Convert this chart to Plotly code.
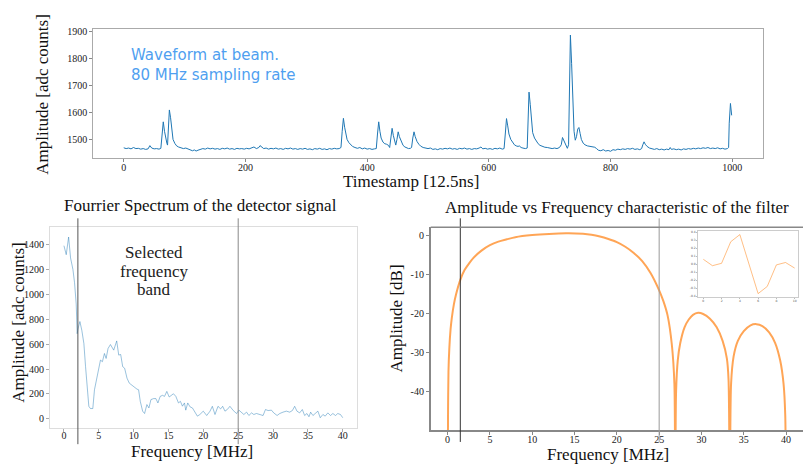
import plotly.graph_objects as go

W, H = 803, 464
SERIF = "Liberation Serif"
SANS = "DejaVu Sans"

# ---------------- data ----------------
# Top: waveform (sample index, adc counts)
ts_idx = [0, 4, 8, 12, 16, 20, 24, 28, 32, 36, 40, 43, 46, 50, 54, 58, 61, 63, 65, 67, 69, 71, 72, 73, 75, 77, 79, 81,
          84, 87, 90, 94, 98, 102, 106, 110, 113, 116, 119, 122, 126, 130, 134, 138, 142, 146, 150, 154, 158, 162,
          166, 170, 174, 178, 182, 186, 190, 194, 198, 202, 206, 210, 214, 218, 222, 224, 227, 230, 234, 238, 242,
          246, 250, 254, 258, 262, 266, 270, 274, 278, 282, 286, 290, 294, 298, 302, 306, 310, 314, 318, 322, 326,
          330, 334, 338, 342, 346, 350, 354, 357, 359, 361, 363, 365, 367, 370, 373, 376, 380, 384, 388, 392, 396,
          400, 404, 408, 412, 415, 417, 419, 421, 423, 426, 429, 432, 435, 437, 439, 441, 443, 445, 447, 449, 451,
          453, 456, 459, 462, 465, 468, 471, 473, 475, 477, 479, 482, 485, 488, 492, 496, 500, 504, 508, 512, 516,
          520, 524, 528, 532, 536, 540, 544, 548, 552, 556, 560, 564, 568, 572, 576, 580, 584, 587, 590, 594, 598,
          602, 606, 610, 614, 618, 622, 625, 627, 629, 631, 633, 636, 639, 642, 645, 648, 650, 653, 656, 660, 663,
          664, 666, 668, 670, 672, 675, 678, 681, 684, 688, 692, 696, 700, 704, 708, 712, 716, 719, 721, 723, 726,
          729, 731, 732, 734, 736, 738, 740, 742, 744, 746, 748, 750, 752, 755, 758, 762, 766, 770, 774, 777, 780,
          784, 788, 792, 796, 800, 804, 808, 812, 816, 820, 824, 828, 832, 836, 840, 844, 848, 851, 853, 855, 857,
          860, 864, 868, 872, 876, 880, 884, 888, 892, 896, 898, 900, 904, 908, 912, 916, 920, 924, 928, 932, 936,
          940, 944, 948, 952, 956, 960, 964, 968, 972, 976, 980, 984, 988, 992, 994, 995, 997, 999]
ts_adc = [1469, 1466, 1468, 1465, 1470, 1466, 1467, 1464, 1466, 1463, 1465, 1477, 1468, 1465, 1466, 1464, 1467, 1530,
          1565, 1530, 1500, 1485, 1479, 1520, 1609, 1580, 1530, 1500, 1485, 1476, 1472, 1468, 1466, 1468, 1464, 1462,
          1458, 1461, 1457, 1460, 1462, 1466, 1464, 1468, 1465, 1467, 1464, 1466, 1463, 1467, 1465, 1468, 1464, 1466,
          1463, 1467, 1465, 1466, 1464, 1467, 1465, 1469, 1472, 1466, 1470, 1477, 1471, 1466, 1468, 1464, 1467, 1465,
          1468, 1464, 1466, 1463, 1467, 1465, 1468, 1464, 1466, 1463, 1466, 1464, 1467, 1463, 1465, 1462, 1466, 1464,
          1467, 1463, 1465, 1462, 1466, 1464, 1467, 1465, 1466, 1470, 1530, 1578, 1545, 1515, 1500, 1488, 1480, 1474,
          1470, 1467, 1470, 1465, 1468, 1464, 1466, 1463, 1465, 1466, 1520, 1565, 1530, 1505, 1490, 1484, 1482, 1478,
          1470, 1510, 1541, 1515, 1490, 1479, 1500, 1528, 1510, 1490, 1478, 1472, 1468, 1466, 1467, 1470, 1505, 1528,
          1510, 1492, 1482, 1475, 1470, 1468, 1466, 1468, 1463, 1465, 1462, 1466, 1464, 1467, 1465, 1468, 1464, 1466,
          1463, 1467, 1465, 1468, 1464, 1466, 1463, 1466, 1465, 1468, 1472, 1465, 1467, 1464, 1466, 1463, 1467, 1465,
          1468, 1464, 1466, 1520, 1577, 1550, 1520, 1500, 1488, 1480, 1476, 1474, 1476, 1470, 1468, 1466, 1468, 1560,
          1675, 1630, 1560, 1525, 1505, 1492, 1484, 1478, 1474, 1471, 1470, 1468, 1466, 1468, 1466, 1470, 1480, 1507,
          1495, 1478, 1467, 1480, 1650, 1886, 1780, 1620, 1530, 1497, 1510, 1538, 1544, 1522, 1500, 1486, 1480, 1476,
          1474, 1472, 1471, 1466, 1460, 1458, 1462, 1457, 1459, 1456, 1462, 1460, 1464, 1462, 1465, 1463, 1466, 1464,
          1467, 1463, 1465, 1462, 1466, 1480, 1491, 1482, 1474, 1468, 1466, 1463, 1466, 1462, 1464, 1461, 1464, 1462,
          1470, 1463, 1465, 1462, 1464, 1461, 1465, 1463, 1466, 1464, 1467, 1465, 1468, 1466, 1469, 1467, 1470, 1466,
          1468, 1466, 1469, 1465, 1467, 1464, 1466, 1470, 1560, 1633, 1589]
ts_xticks = [0, 200, 400, 600, 800, 1000]
ts_yticks = [1500, 1600, 1700, 1800, 1900]

# Bottom-left: Fourier spectrum
spec_freq = [0.0, 0.33, 0.67, 0.95, 1.29, 1.52, 1.76, 1.9, 2.0, 2.29, 2.57, 2.86, 3.1, 3.33, 3.57, 3.8, 4.14, 4.38,
             4.67, 5.0, 5.24, 5.52, 5.81, 6.05, 6.33, 6.67, 6.9, 7.14, 7.57, 7.86, 8.14, 8.43, 8.71, 9.05, 9.38,
             9.76, 10.14, 10.48, 10.71, 10.95, 11.29, 11.57, 11.9, 12.19, 12.48, 12.86, 13.19, 13.48, 13.81, 14.14,
             14.43, 14.76, 15.1, 15.38, 15.71, 16.05, 16.43, 16.71, 17.0, 17.29, 17.48, 17.76, 18.1, 18.43, 18.81,
             19.14, 19.5, 19.99, 20.48, 20.96, 21.29, 21.67, 22.1, 22.48, 22.77, 23.1, 23.43, 23.81, 24.29, 24.77,
             25.1, 25.5, 25.81, 26.2, 26.53, 26.91, 27.24, 27.62, 28.1, 28.57, 28.91, 29.29, 29.77, 30.1, 30.58,
             30.96, 31.43, 31.91, 32.39, 32.77, 33.1, 33.43, 33.81, 34.2, 34.53, 34.86, 35.15, 35.39, 35.72, 36.05,
             36.43, 36.77, 37.15, 37.48, 37.86, 38.24, 38.58, 38.96, 39.29, 39.67, 40.0]
spec_amp = [1392, 1320, 1462, 1294, 1201, 1095, 922, 684, 720, 782, 710, 605, 419, 233, 100, 82, 82, 233,
            313, 379, 472, 459, 525, 485, 565, 597, 578, 552, 626, 512, 517, 419, 406, 326, 286,
            268, 254, 238, 233, 140, 61, 42, 114, 87, 154, 162, 162, 127, 180, 188,
            180, 220, 175, 190, 201, 180, 127, 140, 101, 127, 69, 127, 95, 87, 53,
            21, 34, 61, 26, 61, 100, 34, 100, 79, 100, 61, 74, 100, 66, 42,
            69, 53, 34, 53, 26, 47, 34, 42, 34, 26, 74, 66, 69, 47, 26,
            42, 53, 61, 53, 66, 100, 61, 47, 74, 26, 42, 16, 53, 26, 40,
            61, 8, 34, 21, 47, 26, 42, 26, 42, 34, 8]
spec_xticks = [0, 5, 10, 15, 20, 25, 30, 35, 40]
spec_yticks = [0, 200, 400, 600, 800, 1000, 1200, 1400]
spec_band = [2, 25]

# Bottom-right: filter amplitude response (dB)
filt_freq = [0.0, 0.05, 0.1, 0.2, 0.35, 0.5, 0.75, 1.0, 1.5, 2.0, 2.5, 3.0, 4.0, 5.0, 6.0, 7.0, 8.0, 10.0, 12.0,
             14.0, 16.0, 17.0, 18.0, 19.0, 20.0, 21.0, 22.0, 23.0, 24.0, 25.0, 25.5, 26.0, 26.5, 26.8, 26.9, 27.0,
             27.2, 27.5, 28.0, 28.5, 29.0, 29.6, 30.2, 31.0, 31.8, 32.5, 33.0, 33.2, 33.35, 33.5, 33.8, 34.3, 35.0,
             35.8, 36.5, 37.2, 38.0, 38.7, 39.3, 39.7, 39.9, 39.97]
filt_db = [-70, -45, -35, -29, -24, -21, -17.5, -15, -11.3, -8.8, -7.2, -5.8, -3.8, -2.4, -1.5, -0.9, -0.35, 0.2, 0.5,
           0.65, 0.55, 0.3, -0.15, -0.8, -1.6, -2.8, -4.4, -6.5, -9.6, -14.0, -16.8, -20.5, -28, -38, -70, -40,
           -32, -27.5, -23.5, -21.5, -20.3, -19.8, -20.1, -21.3, -23.5, -27, -31.5, -37, -70, -38, -31, -27, -24.5,
           -23, -22.7, -23.2, -24.8, -27.5, -32, -38, -46, -70]
filt_xticks = [0, 5, 10, 15, 20, 25, 30, 35, 40]
filt_yticks = [0, -10, -20, -30, -40]
filt_band = [1.5, 25]

# Inset: filter taps
tap_idx = [0, 1, 2, 3, 4, 5, 6, 7, 8, 9, 10]
tap_coef = [0.06, -0.02, 0.01, 0.28, 0.37, 0.0, -0.37, -0.28, -0.01, 0.02, -0.05]
tap_xticks = [0, 2, 4, 6, 8, 10]
tap_yticks = [0.4, 0.3, 0.2, 0.1, 0.0, -0.1, -0.2, -0.3, -0.4]


def px_x(p):
    return p / W


def px_y(p):
    return 1 - p / H


fig = go.Figure()
fig.add_trace(go.Scatter(x=ts_idx, y=ts_adc, mode="lines", line=dict(color="#1f77b4", width=1),
                         xaxis="x", yaxis="y", hoverinfo="skip"))
fig.add_trace(go.Scatter(x=spec_freq, y=spec_amp, mode="lines", line=dict(color="rgba(31,119,180,0.45)", width=1),
                         xaxis="x2", yaxis="y2", hoverinfo="skip"))
fig.add_trace(go.Scatter(x=filt_freq, y=filt_db, mode="lines",
                         line=dict(color="rgba(255,127,14,0.7)", width=2, shape="spline", smoothing=0.8),
                         xaxis="x3", yaxis="y3", hoverinfo="skip"))
fig.add_trace(go.Scatter(x=tap_idx, y=tap_coef, mode="lines", line=dict(color="rgba(255,127,14,0.5)", width=1),
                         xaxis="x4", yaxis="y4", hoverinfo="skip"))

tickfont = dict(family=SERIF, size=10, color="#222")
common = dict(showgrid=False, zeroline=False, showline=True, ticks="outside", ticklen=3, tickfont=tickfont)

fig.update_layout(
    width=W, height=H, autosize=False, showlegend=False,
    margin=dict(l=0, r=0, t=0, b=0), paper_bgcolor="white", plot_bgcolor="white",
    xaxis=dict(domain=[px_x(93.3), px_x(762.7)], anchor="y", range=[-50, 1050], tickvals=ts_xticks,
               ticktext=[str(v) for v in ts_xticks], mirror=True, linecolor="#aaa", linewidth=1,
               tickcolor="#888", ticklabelstandoff=-3, **common),
    yaxis=dict(domain=[px_y(156), px_y(25.7)], anchor="x", range=[1430, 1907], tickvals=ts_yticks,
               ticktext=[str(v) for v in ts_yticks], mirror=True, linecolor="#aaa", linewidth=1,
               tickcolor="#888", **common),
    xaxis2=dict(domain=[px_x(50), px_x(356.7)], anchor="y2", range=[-2, 42], tickvals=spec_xticks,
                ticktext=[str(v) for v in spec_xticks], mirror=True, linecolor="#ddd", linewidth=1,
                tickcolor="#aaa", ticklabelstandoff=-5, **common),
    yaxis2=dict(domain=[px_y(428.3), px_y(225)], anchor="x2", range=[-72, 1546], tickvals=spec_yticks,
                ticktext=[str(v) for v in spec_yticks], mirror=True, linecolor="#ddd", linewidth=1,
                tickcolor="#aaa", **common),
    xaxis3=dict(domain=[px_x(430.7), 1.0], anchor="y3", range=[-2, 42],
                tickvals=filt_xticks, ticktext=[str(v) for v in filt_xticks], linecolor="#888", linewidth=1.6,
                tickcolor="#888", ticklabelstandoff=-4, **common),
    yaxis3=dict(domain=[px_y(431), px_y(225.7)], anchor="x3", range=[-50, 2.2], tickvals=filt_yticks,
                ticktext=[str(v) for v in filt_yticks], linecolor="#888", linewidth=1.6,
                tickcolor="#888", **common),
    xaxis4=dict(domain=[px_x(698.3), px_x(798.3)], anchor="y4", range=[-0.55, 10.4], tickvals=tap_xticks,
                ticktext=[str(v) for v in tap_xticks], showgrid=False, zeroline=False, showline=True, mirror=True,
                linecolor="#ccc", linewidth=1, ticks="outside", ticklen=1, tickcolor="#bbb",
                tickfont=dict(family=SANS, size=3, color="#555")),
    yaxis4=dict(domain=[px_y(296), px_y(229.3)], anchor="x4", range=[-0.41, 0.417], tickvals=tap_yticks,
                ticktext=[f"{v:.1f}" for v in tap_yticks], showgrid=False, zeroline=False, showline=True,
                mirror=True, linecolor="#ccc", linewidth=1, ticks="outside", ticklen=1, tickcolor="#bbb",
                tickfont=dict(family=SANS, size=3, color="#555")),
)

shapes = []
for xv, col in zip(spec_band, ["#555", "#888"]):
    shapes.append(dict(type="line", xref="x2", yref="y2 domain", x0=xv, x1=xv, y0=-0.082, y1=1.041,
                       line=dict(color=col, width=1)))
for xv, col in zip(filt_band, ["#333", "#999"]):
    shapes.append(dict(type="line", xref="x3", yref="y3 domain", x0=xv, x1=xv, y0=-0.057, y1=1.044,
                       line=dict(color=col, width=1)))
# top frame line of filter panel
shapes.append(dict(type="line", xref="x3 domain", yref="y3 domain", x0=0, x1=1, y0=1, y1=1,
                   line=dict(color="#888", width=1.6)))
fig.update_layout(shapes=shapes)

ann = []


def text(x, y, s, size=17, family=SERIF, color="#111", angle=0, xanchor="center", yanchor="middle", align="center"):
    ann.append(dict(x=x, y=y, xref="paper", yref="paper", text=s, showarrow=False, textangle=angle,
                    font=dict(family=family, size=size, color=color), xanchor=xanchor, yanchor=yanchor,
                    align=align))


# top panel
text(px_x(129), px_y(61.5), "Waveform at beam.<br>80 MHz sampling rate", size=15, family=SANS, color="#4f9ff0",
     xanchor="left", align="left")
text(px_x(41.7), px_y(91), "Amplitude [adc counts]", angle=-90)
text(px_x(411), px_y(179), "Timestamp [12.5ns]")
# spectrum panel
text(px_x(200.8), px_y(204), "Fourrier Spectrum of the detector signal")
text(px_x(18.5), px_y(321.7), "Amplitude [adc counts]", angle=-90)
text(px_x(191.7), px_y(452), "Frequency [MHz]")
for s, yy in zip(["Selected", "frequency", "band"], [251, 270, 288.3]):
    text(px_x(154), px_y(yy), s, color="#222")
# filter panel
text(px_x(617), px_y(206), "Amplitude vs Frequency characteristic of the filter")
text(px_x(397), px_y(318), "Amplitude [dB]", angle=-90)
text(px_x(608), px_y(455.5), "Frequency [MHz]")
fig.update_layout(annotations=ann)

fig.write_html("out.html", config={"displayModeBar": False},
               post_script="document.body.style.margin='0';")
